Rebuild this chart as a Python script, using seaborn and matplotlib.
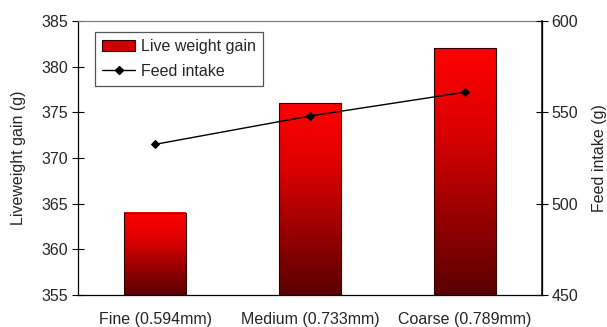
import numpy as np
import pandas as pd
import matplotlib
matplotlib.use("Agg")
import matplotlib.pyplot as plt
import seaborn as sns
from matplotlib.colors import LinearSegmentedColormap
from matplotlib.patches import Patch
from matplotlib.lines import Line2D

categories = ["Fine (0.594mm)", "Medium (0.733mm)", "Coarse (0.789mm)"]
liveweight_gain = [364, 376, 382]
feed_intake = [532.5, 548, 561]
left_ticks = [355, 360, 365, 370, 375, 380, 385]
right_ticks = [450, 500, 550, 600]

sns.set_theme(style="white")
plt.rcParams["font.family"] = ["Liberation Sans", "DejaVu Sans"]
FS = 11.5

df = pd.DataFrame({"size": categories, "gain": liveweight_gain, "intake": feed_intake})

fig = plt.figure(figsize=(6.07, 3.27), dpi=100)
fig.subplots_adjust(left=78 / 607, right=542 / 607, top=1 - 21 / 327, bottom=1 - 295 / 327)
ax = fig.add_subplot(111)

sns.barplot(data=df, x="size", y="gain", ax=ax, width=0.4, color="red",
            edgecolor="#300000", linewidth=0.8, zorder=2)
ymin, ymax = left_ticks[0], left_ticks[-1]

# vertical red gradient inside every bar, over its visible part
cmap = LinearSegmentedColormap.from_list("redfade", ["#5a0000", "#9a0000", "#dd0000", "#ff0000"])
grad = np.linspace(0, 1, 256).reshape(-1, 1)
for bar in ax.patches:
    x0, y0 = bar.get_x(), bar.get_y()
    w, h = bar.get_width(), bar.get_height()
    bar.set_facecolor("none")
    ax.imshow(grad, cmap=cmap, aspect="auto", origin="lower", interpolation="bilinear",
              extent=[x0, x0 + w, max(y0, ymin), y0 + h], zorder=1.9)
ax.set_aspect("auto")
ax.set_xlim(-0.5, len(categories) - 0.5)
ax.set_ylim(ymin, ymax)

ax.set_yticks(left_ticks)
ax.set_ylabel("Liveweight gain (g)", fontsize=FS, labelpad=11)
ax.set_xlabel("")
ax.set_xticks(range(len(categories)))
ax.set_xticklabels(categories)
ax.set_xticks(np.arange(-0.5, len(categories)), minor=True)
ax.tick_params(axis="x", which="major", length=0, pad=12, labelsize=FS)
ax.tick_params(axis="x", which="minor", direction="inout", length=8, width=0.8, color="black")
ax.tick_params(axis="y", direction="inout", length=8, width=0.8, color="black", pad=3,
               left=True, labelsize=FS)
for side in ["left", "bottom"]:
    ax.spines[side].set_color("black")
    ax.spines[side].set_linewidth(0.9)
ax.spines["top"].set_color("#808080")
ax.spines["top"].set_linewidth(0.9)

ax2 = ax.twinx()
sns.pointplot(data=df, x="size", y="intake", ax=ax2, color="black", markers="D",
              markersize=4.5, linewidth=1.0, zorder=3)
ax2.set_ylim(right_ticks[0], right_ticks[-1])
ax2.set_xlim(-0.5, len(categories) - 0.5)
ax2.set_yticks(right_ticks)
ax2.set_ylabel("Feed intake (g)", fontsize=FS, labelpad=10)
ax2.set_xlabel("")
ax2.tick_params(axis="y", direction="inout", length=8, width=0.8, color="black", pad=3,
                right=True, labelsize=FS)
ax2.spines["right"].set_color("black")
ax2.spines["right"].set_linewidth(0.9)
for side in ["top", "left", "bottom"]:
    ax2.spines[side].set_visible(False)

handles = [
    Patch(facecolor="#d00000", edgecolor="#300000", linewidth=0.8, label="Live weight gain"),
    Line2D([0], [0], color="black", lw=1.0, marker="D", markersize=4.5, label="Feed intake"),
]
leg = ax2.legend(handles=handles, loc="upper left", bbox_to_anchor=(0.036, 0.96),
                 frameon=True, fancybox=False, framealpha=1, edgecolor="#555555",
                 fontsize=FS, handlelength=2.1, handleheight=0.65, borderpad=0.45,
                 labelspacing=0.6, handletextpad=0.35, borderaxespad=0)
leg.get_frame().set_linewidth(0.9)

fig.savefig("out.png", dpi=100)
